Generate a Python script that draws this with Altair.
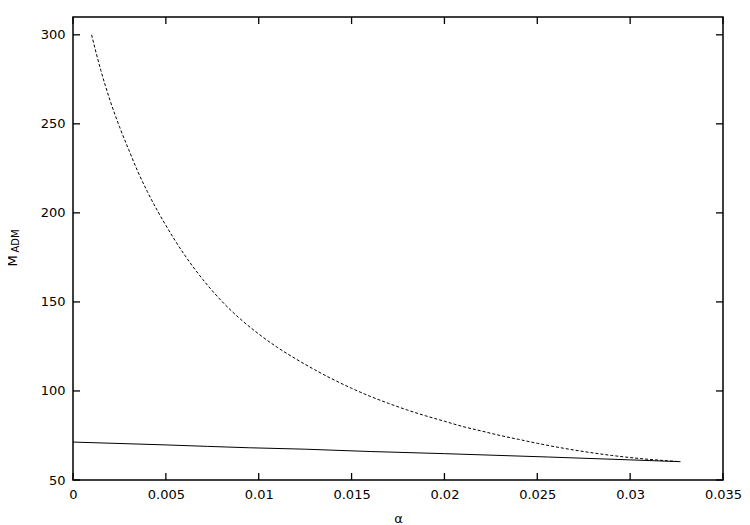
import altair as alt
import pandas as pd

# dashed branch (alpha, M_ADM)
dash_x = [0.001, 0.0015, 0.002, 0.0025, 0.003, 0.0035, 0.004, 0.005, 0.006, 0.007,
          0.008, 0.009, 0.010, 0.011, 0.012, 0.013, 0.014, 0.015, 0.016, 0.017,
          0.018, 0.019, 0.020, 0.021, 0.022, 0.023, 0.024, 0.025, 0.026, 0.027,
          0.028, 0.029, 0.030, 0.031, 0.032, 0.0327]
dash_y = [300, 280, 263, 248.5, 235.5, 223, 212, 193, 176.5, 162.5,
          150.5, 140.5, 132, 124.5, 118, 112, 106.5, 101.5, 97, 93,
          89.3, 86, 83, 80, 77.5, 75, 72.8, 70.6, 68.6, 66.8,
          65.2, 63.8, 62.6, 61.6, 60.8, 60.3]

# solid branch
solid_x = [0.0, 0.005, 0.0095, 0.0125, 0.016, 0.02, 0.0256, 0.03, 0.0327]
solid_y = [71.3, 69.7, 68.1, 67.3, 66.0, 64.8, 62.9, 61.3, 60.3]

x_ticks = [0, 0.005, 0.01, 0.015, 0.02, 0.025, 0.03, 0.035]
y_ticks = [50, 100, 150, 200, 250, 300]

W, H = 650, 463
TL = 7
FONT = "DejaVu Sans"

df_dash = pd.DataFrame({"a": dash_x, "m": dash_y})
df_solid = pd.DataFrame({"a": solid_x, "m": solid_y})
df_xt = pd.DataFrame({"a": x_ticks})
df_yt = pd.DataFrame({"m": y_ticks})

xs = alt.Scale(domain=[0, 0.035], nice=False, zero=False)
ys = alt.Scale(domain=[50, 310], nice=False, zero=False)

xaxis = alt.Axis(values=x_ticks, title="α", ticks=False, domain=False, grid=False,
                 labelPadding=8, titlePadding=11, labelFlush=False, labelOverlap=False,
                 labelExpr="datum.value == 0 ? '0' : format(datum.value, '~g')")
yaxis = alt.Axis(values=y_ticks, title=None, ticks=False, domain=False, grid=False,
                 labelPadding=8, labelFlush=False, labelOverlap=False)

dash = alt.Chart(df_dash).mark_line(color="black", strokeWidth=1, strokeDash=[3, 2],
                                    interpolate="monotone").encode(
    x=alt.X("a:Q", scale=xs, axis=xaxis),
    y=alt.Y("m:Q", scale=ys, axis=yaxis),
)
solid = alt.Chart(df_solid).mark_line(color="black", strokeWidth=1,
                                      interpolate="monotone").encode(
    x=alt.X("a:Q", scale=xs),
    y=alt.Y("m:Q", scale=ys),
)

tk = dict(color="black", strokeWidth=1.3)
yl = alt.Chart(df_yt).mark_rule(**tk).encode(y=alt.Y("m:Q", scale=ys), x=alt.value(0), x2=alt.value(TL))
yr = alt.Chart(df_yt).mark_rule(**tk).encode(y=alt.Y("m:Q", scale=ys), x=alt.value(W - TL), x2=alt.value(W))
xb = alt.Chart(df_xt).mark_rule(**tk).encode(x=alt.X("a:Q", scale=xs), y=alt.value(H), y2=alt.value(H - TL))
xt = alt.Chart(df_xt).mark_rule(**tk).encode(x=alt.X("a:Q", scale=xs), y=alt.value(0), y2=alt.value(TL))

ylab_main = alt.Chart(pd.DataFrame({"t": ["M"]})).mark_text(
    font=FONT, fontSize=13, color="black", align="center", baseline="middle", angle=270
).encode(text="t:N", x=alt.value(-60), y=alt.value(244))
ylab_sub = alt.Chart(pd.DataFrame({"t": ["ADM"]})).mark_text(
    font=FONT, fontSize=10, color="black", align="center", baseline="middle", angle=270
).encode(text="t:N", x=alt.value(-57), y=alt.value(224))

chart = alt.layer(dash, solid, yl, yr, xb, xt, ylab_main, ylab_sub).properties(
    width=W, height=H,
    background="white",
    autosize=alt.AutoSizeParams(type="none"),
    padding={"left": 65, "top": 9, "right": 19, "bottom": 45},
).configure_view(
    stroke="black", strokeWidth=1.5
).configure_axis(
    labelFont=FONT, labelFontSize=13, labelColor="black",
    titleFont=FONT, titleFontSize=13, titleColor="black", titleFontWeight="normal",
).configure_text(font=FONT)

chart.save("out.html", embed_options={"renderer": "svg", "actions": False})
